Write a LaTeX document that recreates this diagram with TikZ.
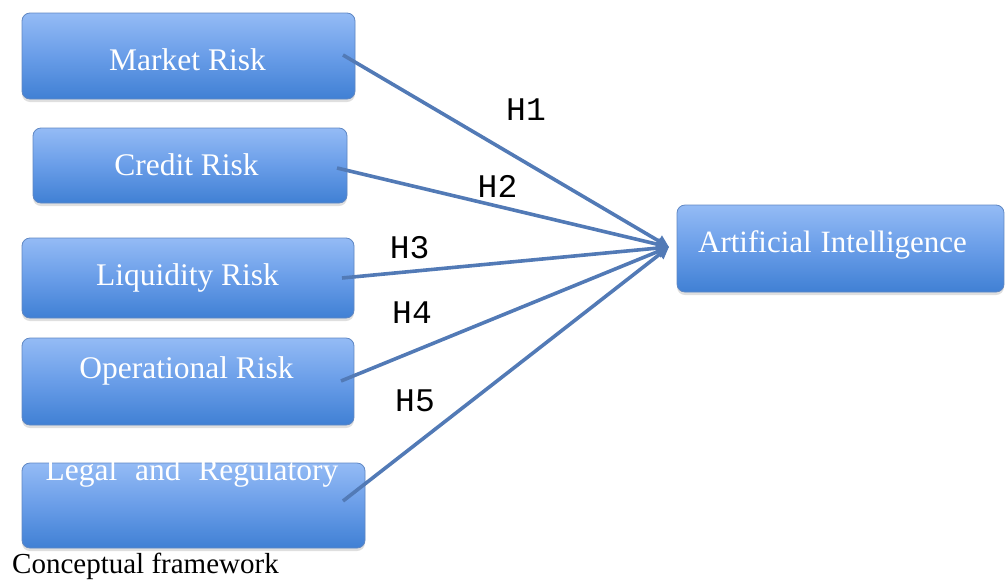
\documentclass[tikz,border=0pt]{standalone}
\usepackage{fontspec}
\setmainfont{Liberation Serif}
\newfontfamily\monofont{Liberation Mono}
\usetikzlibrary{arrows.meta,shadows}
\definecolor{boxtop}{RGB}{148,187,245}
\definecolor{boxmid}{RGB}{105,157,232}
\definecolor{boxbot}{RGB}{64,128,212}
\definecolor{boxedge}{RGB}{95,135,195}
\definecolor{linkcol}{RGB}{82,122,182}
\tikzset{
  riskbox/.style={draw=boxedge, line width=0.8pt, rounded corners=8pt,
    top color=boxtop, bottom color=boxbot, middle color=boxmid,
    drop shadow={shadow xshift=0pt, shadow yshift=-3pt, opacity=0.25, fill=gray},
    inner sep=0pt},
  boxtext/.style={text=white, font=\fontsize{31.5}{36}\selectfont, anchor=base, inner sep=0pt},
  hlabel/.style={text=black, font=\monofont\fontsize{33}{38}\selectfont, anchor=base, inner sep=0pt},
  link/.style={draw=linkcol, line width=3.6pt, -{Triangle[length=12pt,width=12pt]}},
}
\begin{document}
\begin{tikzpicture}[x=1pt,y=-1pt]
\useasboundingbox (0,0) rectangle (1006,579);
% boxes
\node[riskbox, minimum width=333pt, minimum height=86pt] (market) at (188.5,56) {};
\node[riskbox, minimum width=314pt, minimum height=75pt] (credit) at (190,165.5) {};
\node[riskbox, minimum width=332pt, minimum height=80pt] (liquidity) at (188,278) {};
\node[riskbox, minimum width=332pt, minimum height=87pt] (operational) at (188,381.5) {};
\node[riskbox, minimum width=343pt, minimum height=85pt] (legal) at (193.5,505.5) {};
\node[riskbox, minimum width=327pt, minimum height=87pt] (ai) at (840.5,248.5) {};
% box texts
\node[boxtext] (tmarket) at (187.5,70) {Market Risk};
\node[boxtext] (tcredit) at (186.5,175) {Credit Risk};
\node[boxtext] (tliquidity) at (187.5,285) {Liquidity Risk};
\node[boxtext] (toperational) at (186.5,378) {Operational Risk};
\node[boxtext] (tlegal) at (192,480) {Legal\hspace{10pt} and\hspace{10pt} Regulatory};
\node[boxtext, font=\fontsize{31}{36}\selectfont] (tai) at (832.5,252) {Artificial\hspace{1pt} Intelligence};
% connector end points
\coordinate (s1) at (343,55);
\coordinate (s2) at (337,168);
\coordinate (s3) at (342,278);
\coordinate (s4) at (341,381);
\coordinate (s5) at (343,501);
\coordinate (t) at (669,247);
\draw[link] (s1) -- (t);
\draw[link] (s2) -- (t);
\draw[link] (s3) -- (t);
\draw[link] (s4) -- (t);
\draw[link] (s5) -- (t);
% hypothesis labels
\node[hlabel] (h1) at (526,120) {H1};
\node[hlabel] (h2) at (497.5,197) {H2};
\node[hlabel] (h3) at (409.7,258) {H3};
\node[hlabel] (h4) at (412,323) {H4};
\node[hlabel] (h5) at (415,411) {H5};
% caption
\node[text=black, font=\fontsize{29}{34}\selectfont, anchor=base west, inner sep=0pt] (caption) at (12,573) {Conceptual framework};
\end{tikzpicture}
\end{document}
